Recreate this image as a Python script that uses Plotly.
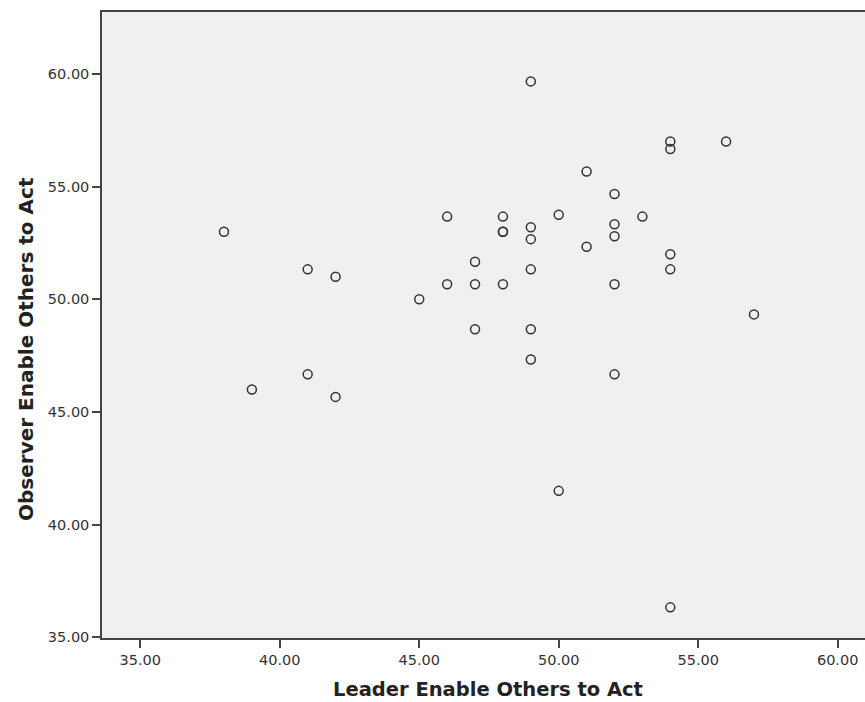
import plotly.graph_objects as go

leader = [38, 39, 41, 41, 42, 42, 45, 46, 46, 47, 47, 47, 48, 48, 48, 48,
          49, 49, 49, 49, 49, 49, 50, 50, 51, 51, 52, 52, 52, 52, 52, 53,
          54, 54, 54, 54, 54, 56, 57]
observer = [53.00, 46.00, 51.33, 46.67, 51.00, 45.67, 50.00, 53.67, 50.67,
            51.67, 50.67, 48.67, 53.67, 53.00, 53.00, 50.67,
            59.67, 53.20, 52.67, 51.33, 48.67, 47.33, 53.75, 41.50,
            55.67, 52.33, 54.67, 53.33, 52.80, 50.67, 46.67, 53.67,
            57.00, 56.67, 52.00, 51.33, 36.33, 57.00, 49.33]

tick_vals = [35, 40, 45, 50, 55, 60]
x_title = "Leader Enable Others to Act"
y_title = "Observer Enable Others to Act"

fig = go.Figure()
fig.add_trace(go.Scatter(
    x=leader, y=observer, mode="markers",
    marker=dict(symbol="circle-open", size=9, color="#333333",
                line=dict(width=1.5, color="#333333")),
    showlegend=False, hoverinfo="x+y",
))

axis_font = dict(family="DejaVu Sans", size=14.5, color="#333333")
fig.update_layout(
    width=865, height=702,
    margin=dict(l=102, r=0, t=12, b=64),
    paper_bgcolor="white",
    plot_bgcolor="#f0f0f0",
    xaxis=dict(range=[33.627, 60.98], tickvals=tick_vals, tickformat=".2f",
               showgrid=False, zeroline=False, showline=True,
               linecolor="#444444", linewidth=1.5, mirror=True,
               ticks="outside", ticklen=8, tickwidth=1.5, tickcolor="#444444",
               tickfont=axis_font),
    yaxis=dict(range=[34.97, 62.75], tickvals=tick_vals, tickformat=".2f",
               showgrid=False, zeroline=False, showline=True,
               linecolor="#444444", linewidth=1.5, mirror=False,
               ticks="outside", ticklen=8, tickwidth=1.5, tickcolor="#444444",
               tickfont=axis_font),
    annotations=[
        dict(text=x_title, xref="paper", yref="paper", x=0.506, y=-0.082,
             xanchor="center", yanchor="middle", showarrow=False,
             font=dict(family="DejaVu Sans", size=19.5, color="#222222",
                       weight="bold")),
        dict(text=y_title, xref="paper", yref="paper", x=-0.0996, y=0.4617,
             xanchor="center", yanchor="middle", showarrow=False, textangle=-90,
             font=dict(family="DejaVu Sans", size=20, color="#222222",
                       weight="bold")),
    ],
)

fig.write_html("out.html",
               config={"displayModeBar": False},
               post_script="document.body.style.margin='0px';"
                           "document.body.style.overflow='hidden';")
